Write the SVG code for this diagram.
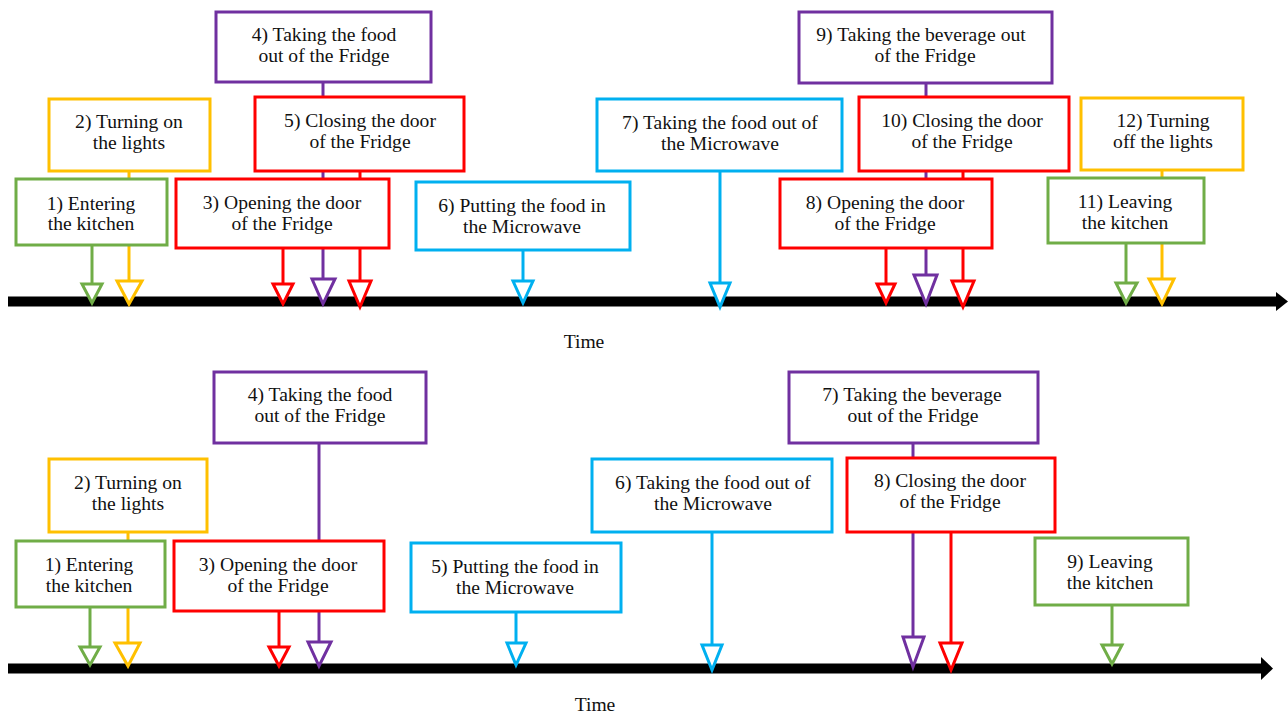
<svg xmlns="http://www.w3.org/2000/svg" width="1288" height="714" viewBox="0 0 1288 714">
<style>
text{font-family:"Liberation Serif","Times New Roman",serif;font-size:19.6px;fill:#111;text-anchor:middle}
rect{fill:#fff;stroke-width:3}
.g{stroke:#70AD47}.y{stroke:#FFC000}.r{stroke:#FF0000}.p{stroke:#7030A0}.b{stroke:#00B0F0}
line{stroke-width:3}
polygon.t{fill:#fff;stroke-width:3;stroke-linejoin:miter}
</style>
<rect x="0" y="0" width="1288" height="714" style="fill:#fff;stroke:none"/>
<g id="timelines">
<line x1="8" y1="301.5" x2="1278" y2="301.5" style="stroke:#000;stroke-width:10"/>
<polygon points="1276,292 1288,301.5 1276,311" fill="#000"/>
<line x1="8" y1="668.5" x2="1263" y2="668.5" style="stroke:#000;stroke-width:10"/>
<polygon points="1261,657 1273,668.5 1261,680" fill="#000"/>
</g>
<g id="connectors">
<line class="g" x1="92" y1="245" x2="92" y2="284"/>
<polygon class="t g" points="82,284 102,284 92,303"/>
<line class="y" x1="129" y1="171" x2="129" y2="281"/>
<polygon class="t y" points="117,281 142,281 129,304"/>
<line class="r" x1="283" y1="248" x2="283" y2="284"/>
<polygon class="t r" points="273,284 293,284 283,304"/>
<line class="p" x1="323" y1="82" x2="323" y2="279"/>
<polygon class="t p" points="312,279 335,279 323,304"/>
<line class="r" x1="360" y1="171" x2="360" y2="281"/>
<polygon class="t r" points="349,281 371,281 360,307"/>
<line class="b" x1="523" y1="250" x2="523" y2="281"/>
<polygon class="t b" points="513,281 533,281 523,303"/>
<line class="b" x1="720" y1="171" x2="720" y2="283"/>
<polygon class="t b" points="710,283 730,283 720,307"/>
<line class="r" x1="886" y1="248" x2="886" y2="284"/>
<polygon class="t r" points="877,284 895,284 886,303"/>
<line class="p" x1="926" y1="83" x2="926" y2="275"/>
<polygon class="t p" points="914,275 937,275 926,304"/>
<line class="r" x1="963" y1="171" x2="963" y2="281"/>
<polygon class="t r" points="952,281 974,281 963,307"/>
<line class="g" x1="1126" y1="243" x2="1126" y2="283"/>
<polygon class="t g" points="1116,283 1137,283 1126,303"/>
<line class="y" x1="1162" y1="170" x2="1162" y2="279"/>
<polygon class="t y" points="1149,279 1174,279 1162,304"/>
<line class="g" x1="90" y1="607" x2="90" y2="647"/>
<polygon class="t g" points="80,647 100,647 90,665"/>
<line class="y" x1="128" y1="532" x2="128" y2="643"/>
<polygon class="t y" points="115,643 140,643 128,666"/>
<line class="r" x1="279" y1="611" x2="279" y2="647"/>
<polygon class="t r" points="269,647 289,647 279,666"/>
<line class="p" x1="319" y1="443" x2="319" y2="642"/>
<polygon class="t p" points="308,642 331,642 319,666"/>
<line class="b" x1="516" y1="612" x2="516" y2="643"/>
<polygon class="t b" points="507,643 526,643 516,665"/>
<line class="b" x1="712" y1="532" x2="712" y2="645"/>
<polygon class="t b" points="702,645 722,645 712,670"/>
<line class="p" x1="913" y1="443" x2="913" y2="637"/>
<polygon class="t p" points="903,637 924,637 913,667"/>
<line class="r" x1="951" y1="532" x2="951" y2="643"/>
<polygon class="t r" points="940,643 962,643 951,670"/>
<line class="g" x1="1112" y1="605" x2="1112" y2="645"/>
<polygon class="t g" points="1102,645 1122,645 1112,664"/>
</g>
<g id="t4"><rect class="p" x="216" y="12" width="215" height="70"/><text x="324" y="41">4) Taking the food</text><text x="324" y="62">out of the Fridge</text></g>
<g id="t2"><rect class="y" x="49" y="99" width="161" height="72"/><text x="129" y="128">2) Turning on</text><text x="129" y="149">the lights</text></g>
<g id="t1"><rect class="g" x="16" y="179" width="151" height="66"/><text x="91" y="210">1) Entering</text><text x="91" y="230">the kitchen</text></g>
<g id="t5"><rect class="r" x="255" y="97" width="209" height="74"/><text x="360" y="127">5) Closing the door</text><text x="360" y="148">of the Fridge</text></g>
<g id="t3"><rect class="r" x="176" y="179" width="213" height="69"/><text x="282" y="209">3) Opening the door</text><text x="282" y="230">of the Fridge</text></g>
<g id="t6"><rect class="b" x="416" y="182" width="214" height="68"/><text x="522" y="212">6) Putting the food in</text><text x="522" y="233">the Microwave</text></g>
<g id="t7"><rect class="b" x="597" y="99" width="245" height="72"/><text x="720" y="129">7) Taking the food out of</text><text x="720" y="150">the Microwave</text></g>
<g id="t9"><rect class="p" x="799" y="12" width="253" height="71"/><text x="921" y="41">9) Taking the beverage out</text><text x="925" y="62">of the Fridge</text></g>
<g id="t10"><rect class="r" x="859" y="97" width="210" height="74"/><text x="962" y="127">10) Closing the door</text><text x="962" y="148">of the Fridge</text></g>
<g id="t8"><rect class="r" x="780" y="179" width="212" height="69"/><text x="885" y="209">8) Opening the door</text><text x="885" y="230">of the Fridge</text></g>
<g id="t12"><rect class="y" x="1081" y="98" width="162" height="72"/><text x="1163" y="127">12) Turning</text><text x="1163" y="148">off the lights</text></g>
<g id="t11"><rect class="g" x="1048" y="178" width="156" height="65"/><text x="1125" y="208">11) Leaving</text><text x="1125" y="229">the kitchen</text></g>
<text id="time1" x="584" y="348">Time</text>
<g id="b4"><rect class="p" x="214" y="372" width="212" height="71"/><text x="320" y="401">4) Taking the food</text><text x="320" y="422">out of the Fridge</text></g>
<g id="b2"><rect class="y" x="49" y="459" width="158" height="73"/><text x="128" y="489">2) Turning on</text><text x="128" y="510">the lights</text></g>
<g id="b1"><rect class="g" x="16" y="541" width="149" height="66"/><text x="89" y="571">1) Entering</text><text x="89" y="592">the kitchen</text></g>
<g id="b3"><rect class="r" x="174" y="541" width="210" height="70"/><text x="278" y="571">3) Opening the door</text><text x="278" y="592">of the Fridge</text></g>
<g id="b5"><rect class="b" x="411" y="543" width="210" height="69"/><text x="515" y="573">5) Putting the food in</text><text x="515" y="594">the Microwave</text></g>
<g id="b6"><rect class="b" x="592" y="459" width="240" height="73"/><text x="713" y="489">6) Taking the food out of</text><text x="713" y="510">the Microwave</text></g>
<g id="b7"><rect class="p" x="789" y="372" width="249" height="71"/><text x="912" y="401">7) Taking the beverage</text><text x="913" y="422">out of the Fridge</text></g>
<g id="b8"><rect class="r" x="847" y="458" width="208" height="74"/><text x="950" y="487">8) Closing the door</text><text x="950" y="508">of the Fridge</text></g>
<g id="b9"><rect class="g" x="1035" y="538" width="153" height="67"/><text x="1110" y="568">9) Leaving</text><text x="1110" y="589">the kitchen</text></g>
<text id="time2" x="595" y="711">Time</text>
</svg>
